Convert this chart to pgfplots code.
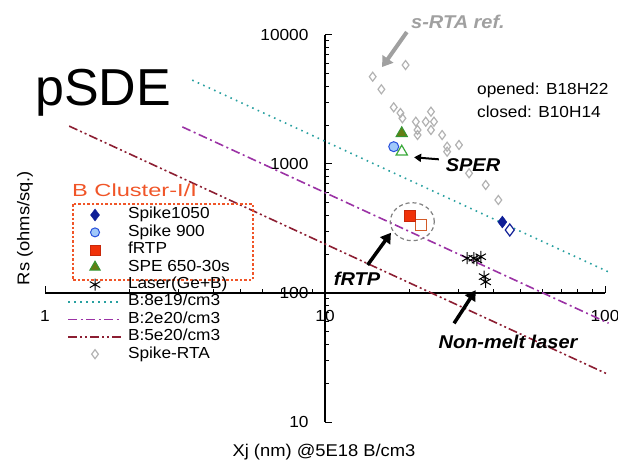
\documentclass[border=0pt]{standalone}
\usepackage{fontspec}
\setmainfont{Liberation Sans}[FakeStretch=1.08]
\newfontfamily\plainfont{Liberation Sans}
\newfontfamily\widefont{Liberation Sans}[FakeStretch=1.35]
\usepackage{pgfplots}
\pgfplotsset{compat=1.18}
\usetikzlibrary{arrows.meta}
\definecolor{cteal}{RGB}{40,160,160}
\definecolor{cpurple}{RGB}{155,50,165}
\definecolor{cdred}{RGB}{140,30,50}
\definecolor{cgray}{RGB}{178,178,178}
\definecolor{corange}{RGB}{240,85,40}
\definecolor{cnavy}{RGB}{15,30,150}
\definecolor{cblue}{RGB}{40,80,220}
\definecolor{clblue}{RGB}{160,200,250}
\definecolor{cred}{RGB}{240,50,10}
\definecolor{credge}{RGB}{200,40,10}
\definecolor{cbrown}{RGB}{210,90,40}
\definecolor{colive}{RGB}{100,125,20}
\definecolor{cgreen}{RGB}{50,150,50}
\definecolor{cgreenb}{RGB}{60,170,60}
\definecolor{carrow}{RGB}{160,160,160}
\tikzset{
  tealline/.style={draw=cteal, line width=1.6pt, dash pattern=on 1.6pt off 4.4pt},
  purpline/.style={draw=cpurple, line width=1.6pt, dash pattern=on 9pt off 3.5pt on 2pt off 3.5pt},
  dredline/.style={draw=cdred, line width=1.6pt, dash pattern=on 9pt off 3pt on 2pt off 3pt on 2pt off 3pt},
}
\pgfplotsset{
  mimg/.style={legend image code/.code={\path[draw=none, fill=none] (0pt,0pt) -- (60pt,0pt); \path[draw=none, fill=none] plot[only marks, #1] coordinates {(27pt,0pt)};}},
  eimg/.style={legend image code/.code={\path[draw=none, fill=none] (0pt,0pt) -- (60pt,0pt);}},
}
\begin{document}
\begin{tikzpicture}
\path[use as bounding box] (-45pt,-39pt) rectangle (573pt,422pt);
\begin{axis}[
  at={(0pt,0pt)}, anchor=south west,
  scale only axis, width=560pt, height=387pt,
  xmode=log, ymode=log,
  xmin=1, xmax=100, ymin=10, ymax=10000,
  axis x line=bottom, axis y line=left,
  axis x line shift=-129pt, axis y line shift=-280pt,
  axis line style={-, line width=1.2pt, black},
  xtick={1,10,100}, xticklabels={1,10,100},
  ytick={10,100,1000,10000}, yticklabels={10,100,1000,10000},
  minor xtick={2,3,4,5,6,7,8,9,20,30,40,50,60,70,80,90},
  minor ytick={20,30,40,50,60,70,80,90,200,300,400,500,600,700,800,900,2000,3000,4000,5000,6000,7000,8000,9000},
  tick align=inside,
  major tick length=7pt, minor tick length=4pt,
  every tick/.style={black, line width=1pt},
  tick label style={font=\fontsize{16}{16}\selectfont},
  yticklabel style={xshift=-13pt},
  xticklabel style={yshift=-14pt},
  clip=false,
  legend cell align=left,
  legend style={at={(axis description cs:0.0411,0.5543)}, anchor=north west,
    draw=none, fill=none, inner sep=0pt, outer sep=0pt, row sep=2.4pt,
    font=\fontsize{16}{16}\selectfont,
    nodes={inner sep=0pt, text height=11.5pt, text depth=3.5pt}},
]
% legend entries
\addlegendimage{draw=none, mimg={mark=diamond*, mark size=6pt, mark options={draw=cnavy, fill=cnavy}}}
\addlegendentry{Spike1050}
\addlegendimage{draw=none, mimg={mark=*, mark size=4.5pt, mark options={draw=cblue, fill=clblue, line width=1pt}}}
\addlegendentry{Spike 900}
\addlegendimage{draw=none, mimg={mark=square*, mark size=5pt, mark options={draw=credge, fill=cred}}}
\addlegendentry{fRTP}
\addlegendimage{draw=none, mimg={mark=triangle*, mark size=6pt, mark options={draw=cgreen, fill=colive, line width=1pt}}}
\addlegendentry{SPE 650-30s}
\addlegendimage{draw=none, mimg={mark=asterisk, mark size=6pt, mark options={draw=black, line width=1pt}}}
\addlegendentry{Laser(Ge+B)}
\addlegendimage{draw=none, eimg}
\addlegendentry{B:8e19/cm3}
\addlegendimage{draw=none, eimg}
\addlegendentry{B:2e20/cm3}
\addlegendimage{draw=none, eimg}
\addlegendentry{B:5e20/cm3}
\addlegendimage{draw=none, mimg={mark=diamond, mark size=4.5pt, mark options={draw=cgray, line width=1.2pt}}}
\addlegendentry{Spike-RTA}

% trend lines
\addplot[tealline, forget plot] coordinates {(3.357,4468) (103,145.6)};
\addplot[purpline, forget plot] coordinates {(3.094,1939) (103,58.3)};
\addplot[dredline, forget plot] coordinates {(1.22,1967) (103,23.3)};

% Spike-RTA reference
\addplot[only marks, mark=diamond, mark size=4.5pt, cgray, line width=1.2pt, forget plot] coordinates {
(19.4,5850) (14.8,4750) (15.9,3795) (17.6,2750) (18.6,2486) (18.9,2262)
(21.1,2128) (23.9,2544) (22.9,2128) (24.5,2128) (21.4,1834) (23.9,1834)
(21.4,1678) (26.2,1678) (27.3,1362) (30.1,1404) (27.3,1245) (32.7,847)
(37.5,687) (41.6,526)};

% Laser
\addplot[only marks, mark=asterisk, mark size=6pt, black, line width=1pt, forget plot] coordinates {
(32.2,186) (34.0,186) (34.9,180) (36.0,191) (37.0,134) (37.5,122)};

% Spike1050
\addplot[only marks, mark=diamond*, mark size=6pt, draw=cnavy, fill=white, line width=1.2pt, forget plot] coordinates {(45.7,308)};
\addplot[only marks, mark=diamond*, mark size=6pt, cnavy, fill=cnavy, forget plot] coordinates {(43.0,355)};
% Spike 900
\addplot[only marks, mark=*, mark size=5pt, draw=cblue, fill=clblue, line width=1pt, forget plot] coordinates {(17.6,1362)};
% SPE
\addplot[only marks, mark=triangle*, mark size=6.5pt, draw=cgreenb, fill=white, line width=1.2pt, forget plot] coordinates {(18.8,1245)};
\addplot[only marks, mark=triangle*, mark size=6.5pt, draw=cgreen, fill=colive, line width=1pt, forget plot] coordinates {(18.8,1730)};
% fRTP
\addplot[only marks, mark=square*, mark size=5.5pt, draw=cbrown, fill=white, line width=1.2pt, forget plot] coordinates {(22.0,337)};
\addplot[only marks, mark=square*, mark size=5.5pt, draw=credge, fill=cred, forget plot] coordinates {(20.1,395)};

% legend line samples
\draw[tealline] (axis description cs:0.0411,0.3101) -- (axis description cs:0.1375,0.3101);
\draw[purpline] (axis description cs:0.0411,0.2651) -- (axis description cs:0.1375,0.2651);
\draw[dredline] (axis description cs:0.0411,0.2202) -- (axis description cs:0.1375,0.2202);

% annotations
\draw[gray, line width=1.2pt, dash pattern=on 4pt off 3pt] (axis cs:20.5,357) ellipse [x radius=22pt, y radius=19pt];
\draw[carrow, line width=4pt, -{Triangle[length=10pt,width=13pt]}] (axis cs:19.6,10540) -- (axis cs:16.0,5650);
\draw[black, line width=2pt, -{Triangle[length=7pt,width=8pt]}] (axis cs:25.5,1087) -- (axis cs:20.8,1127);
\draw[black, line width=3.5pt, -{Triangle[length=10pt,width=12pt]}] (axis cs:14.2,165) -- (axis cs:17.2,293);
\draw[black, line width=3.5pt, -{Triangle[length=10pt,width=12pt]}] (axis cs:28.9,58.2) -- (axis cs:34.5,105);

\node[anchor=base west, inner sep=0pt, font=\plainfont\fontsize{52}{52}\selectfont] at (axis description cs:-0.01786,0.8191) {pSDE};
\node[inner sep=0pt, carrow, font=\fontsize{18.5}{18.5}\selectfont\bfseries\itshape] at (axis description cs:0.7375,1.0336) {s-RTA ref.};
\node[inner sep=0pt, font=\fontsize{18.5}{18.5}\selectfont\bfseries\itshape] at (axis description cs:0.7643,0.6641) {SPER};
\node[inner sep=0pt, font=\fontsize{18.5}{18.5}\selectfont\bfseries\itshape] at (axis description cs:0.5571,0.3695) {fRTP};
\node[inner sep=0pt, font=\fontsize{18.5}{18.5}\selectfont\bfseries\itshape] at (axis description cs:0.8268,0.2067) {Non-melt laser};
\node[anchor=west, inner sep=0pt, font=\fontsize{16}{16}\selectfont] at (axis description cs:0.7714,0.8579) {opened: B18H22};
\node[anchor=west, inner sep=0pt, font=\fontsize{16}{16}\selectfont] at (axis description cs:0.7714,0.8010) {closed: B10H14};
\node[anchor=base west, inner sep=0pt, corange, font=\widefont\fontsize{17.5}{17.5}\selectfont] at (axis description cs:0.0482,0.5814) {B Cluster-I/I};
\draw[corange, line width=2.5pt, dash pattern=on 2.5pt off 2pt] (axis description cs:0.05,0.5633) rectangle (axis description cs:0.3714,0.3669);
\node[rotate=90, inner sep=0pt, font=\fontsize{17}{17}\selectfont] at (axis description cs:-0.0357,0.5013) {Rs (ohms/sq.)};
\node[inner sep=0pt, font=\fontsize{17}{17}\selectfont] at (axis description cs:0.4982,-0.0775) {Xj (nm) @5E18 B/cm3};
\end{axis}
\end{tikzpicture}
\end{document}
